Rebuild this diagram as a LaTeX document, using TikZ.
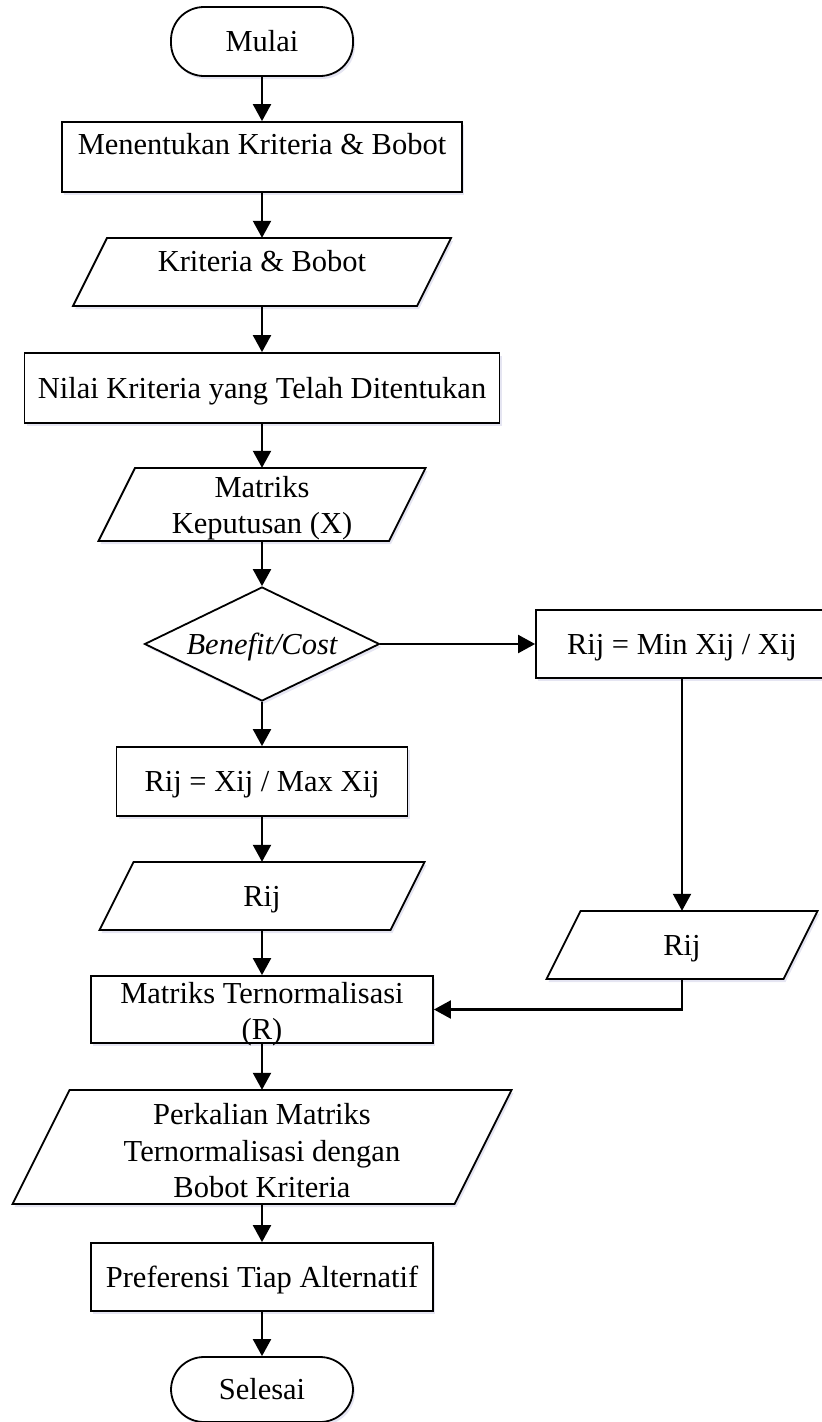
\documentclass[tikz,border=0pt]{standalone}
\usepackage{fontspec}
\setmainfont{Liberation Serif}
\usetikzlibrary{shapes.geometric,arrows.meta,shadows}
% input/output parallelogram: [node options], name, centre x, centre y, width, height, text
\newcommand\iobox[7][]{%
  \pgfmathsetmacro\ioslant{#6*0.5}%
  \draw[base] ({#3-#5/2+\ioslant},{#4-#6/2}) -- ({#3+#5/2},{#4-#6/2})
    -- ({#3+#5/2-\ioslant},{#4+#6/2}) -- ({#3-#5/2},{#4+#6/2}) -- cycle;
  \node[iotext, minimum width={(#5-\ioslant)*1pt}, minimum height=#6pt, #1] (#2) at (#3,#4) {#7};
}
\begin{document}
\begin{tikzpicture}[x=1pt,y=-1pt,
  every node/.style={font=\fontsize{30.5}{36.5}\selectfont, inner sep=0pt},
  softshadow/.style={drop shadow={shadow xshift=2pt,shadow yshift=-3pt,opacity=0.1,fill=black!50!blue}},
  oneline/.style={text height=20pt, text depth=0pt},
  txt/.style={align=center},
  base/.style={draw, line width=1.8pt, fill=white, softshadow},
  term/.style={base, oneline, rectangle, rounded corners=33pt, minimum width=182pt, minimum height=69pt},
  proc/.style={base, oneline, rectangle},
  iotext/.style={rectangle, oneline},
  decide/.style={base, oneline, diamond, aspect=2.06, minimum width=235pt, minimum height=114pt},
  arr/.style={line width=2.2pt, -{Triangle[length=17pt,width=18pt]}},
]
\useasboundingbox (0,0) rectangle (822,1422);

% main column
\node[term] (start) at (262,41.5) {Mulai};
\node[proc, minimum width=400pt, minimum height=70pt,
      label={[oneline,yshift=12.5pt]center:Menentukan Kriteria \& Bobot}] (b1) at (262,157) {};
\iobox[label={[oneline,yshift=10.5pt]center:Kriteria \& Bobot}]{p1}{262}{272}{378}{68}{}
\node[proc, minimum width=475pt, minimum height=70pt] (b2) at (262,388) {Nilai Kriteria yang Telah Ditentukan};
\iobox[label={[txt,yshift=-3.5pt]center:Matriks\\Keputusan (X)}]{p2}{262}{504.5}{327}{73}{}
\node[decide] (d) at (262,644) {\itshape Benefit/Cost};
\node[proc, minimum width=291pt, minimum height=69pt] (b4) at (262,781.5) {Rij = Xij / Max Xij};
\iobox{p3}{262}{896}{325}{68}{Rij}
\node[proc, minimum width=342pt, minimum height=67pt,
      label={[txt,yshift=-4.7pt]center:Matriks Ternormalisasi\\(R)}] (b5) at (262,1009.5) {};
\iobox[label={[txt,yshift=-4pt]center:Perkalian Matriks\\Ternormalisasi dengan\\Bobot Kriteria}]{p5}{262}{1147}{499}{114}{}
\node[proc, minimum width=342pt, minimum height=68pt] (b6) at (262,1277) {Preferensi Tiap Alternatif};
\node[term, minimum height=65pt] (end) at (262,1389.5) {Selesai};

% cost branch
\node[proc, minimum width=292pt, minimum height=68pt] (b3) at (682,644) {Rij = Min Xij / Xij};
\iobox{p4}{682}{945}{271}{68}{Rij}

% connectors
\draw[arr] (start) -- (b1);
\draw[arr] (b1) -- (p1);
\draw[arr] (p1) -- (b2);
\draw[arr] (b2) -- (p2);
\draw[arr] (p2) -- (d);
\draw[arr] (d) -- (b3);
\draw[arr] (d) -- (b4);
\draw[arr] (b4) -- (p3);
\draw[arr] (p3) -- (b5);
\draw[arr] (b3) -- (p4);
\draw[arr] (p4.south) |- (b5.east);
\draw[arr] (b5) -- (p5);
\draw[arr] (p5) -- (b6);
\draw[arr] (b6) -- (end);
\end{tikzpicture}
\end{document}
